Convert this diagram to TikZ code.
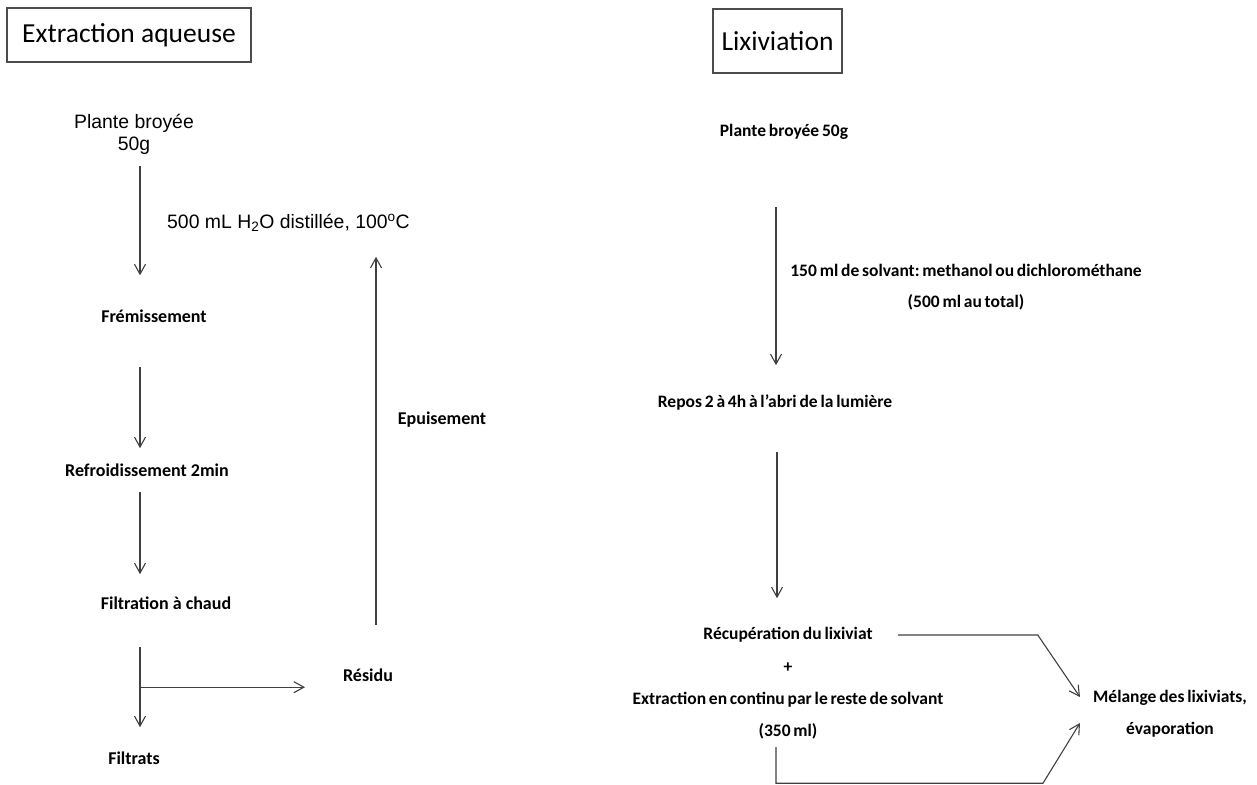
\documentclass[tikz,border=0pt]{standalone}
\usepackage{fontspec}
\setmainfont{Carlito}
\newfontfamily\arial{Liberation Sans}
\usetikzlibrary{arrows.meta}

% tighter word spacing for the right column
\newcommand\serrage{\frenchspacing\spaceskip 0.16em\relax}

\tikzset{
  titre/.style={draw=black!70, line width=1.4pt, inner sep=0pt,
    font=\fontsize{27.5}{32}\selectfont},
  etape/.style={inner sep=0pt, text height=12pt, text depth=4pt,
    font=\bfseries\fontsize{18}{21}\selectfont},
  serre/.style={font=\bfseries\fontsize{17.5}{21}\selectfont\serrage},
  bloc/.style={inner sep=0pt, align=center},
  texte/.style={inner sep=0pt, font=\arial\fontsize{19.4}{22}\selectfont},
  flow/.style={draw=black!75, line width=1.1pt, -{Straight Barb[length=10pt,width=11pt]}},
}

\begin{document}
\begin{tikzpicture}[x=1pt,y=-1pt]
  \useasboundingbox (0,0) rectangle (1257,784);
  \coordinate (colA) at (140,0);
  % extraction aqueuse
  \node[titre, minimum width=244pt, minimum height=54pt] (t1) at (129,35) {Extraction aqueuse};
  \node[texte, align=center] (plante) at (134,134) {Plante broyée\\50g};
  \node[texte, anchor=west] (eau) at (167,223) {500 mL H\textsubscript{2}O distillée, 100\textsuperscript{o}C};
  \node[etape] (fremis) at (154,318) {Frémissement};
  \node[etape] (refroid) at (147,472) {Refroidissement 2min};
  \node[etape] (filtr) at (166,605) {Filtration à chaud};
  \node[etape] (residu) at (368,677) {Résidu};
  \node[etape] (filtrats) at (134,760) {Filtrats};
  \node[etape] (epuis) at (442,420) {Epuisement};
  \draw[flow] (plante.south -| colA) ++(0,12) -- ++(0,109);
  \draw[flow] (fremis.south -| colA) ++(0,41) -- ++(0,81);
  \draw[flow] (refroid.south -| colA) ++(0,12) -- ++(0,82);
  \draw[flow] (filtr.south -| colA) ++(0,34) -- ++(0,80);
  \draw[flow] (filtr.south -| colA) ++(0,74) -- ++(165,0);
  \draw[flow] (residu.north) ++(8,-44) -- ++(0,-368);
  % lixiviation
  \node[titre, minimum width=129pt, minimum height=64pt] (t2) at (777.5,41) {Lixiviation};
  \node[etape, serre] (lplante) at (784,132) {Plante broyée 50g};
  \node[bloc, font=\bfseries\fontsize{17.5}{31}\selectfont\serrage] (solv) at (966,287.5)
    {150 ml de solvant: methanol ou dichlorométhane\\(500 ml au total)};
  \node[etape, serre] (repos) at (775,403) {Repos 2 à 4h à l’abri de la lumière};
  \node[etape, serre] (recup) at (788,635) {Récupération du lixiviat};
  \node[etape, serre] (plus) at (788,668) {+};
  \node[etape, serre] (contin) at (788,700) {Extraction en continu par le reste de solvant};
  \node[etape, serre] (vol) at (788,732) {(350 ml)};
  \node[bloc, font=\bfseries\fontsize{17.5}{32}\selectfont\serrage] (melange) at (1170,714)
    {Mélange des lixiviats,\\évaporation};
  \draw[flow] ([shift={(-8,0)}]lplante.south) ++(0,67) -- ++(0,158);
  \draw[flow] ([shift={(2,0)}]repos.south) ++(0,41) -- ++(0,146);
  \draw[flow] (recup.east) ++(25,0) -- ++(140,0) -- ([shift={(-13,-17)}]melange.west);
  \draw[flow] ([shift={(-12,7)}]vol.south) -- ++(0,36) -- ++(267,0) -- ([shift={(-13,9)}]melange.west);
\end{tikzpicture}
\end{document}
